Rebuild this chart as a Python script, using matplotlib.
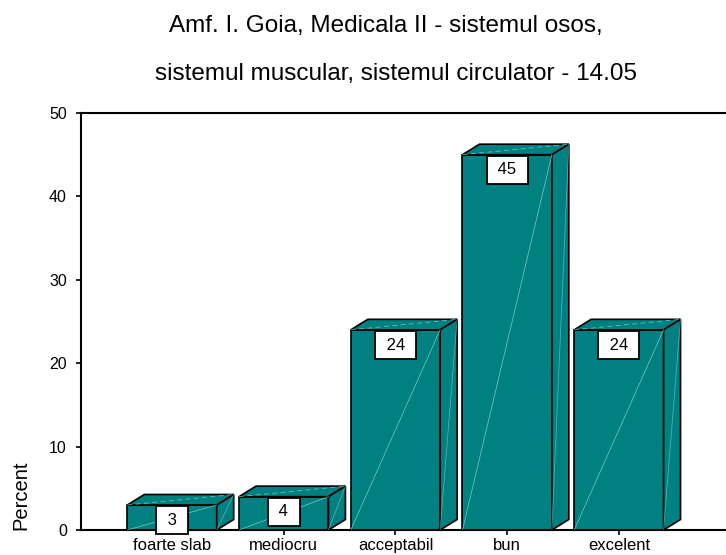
#!/usr/bin/env python3
"""SPSS-style 3D bar chart: exam results in percent."""

import matplotlib
matplotlib.use("Agg")
import matplotlib.pyplot as plt
from matplotlib.patches import Polygon

plt.rcParams['font.family'] = ['Liberation Sans', 'DejaVu Sans']

# data
categories = ['foarte slab', 'mediocru', 'acceptabil', 'bun', 'excelent']
percent = [3, 4, 24, 45, 24]
yticks = [0, 10, 20, 30, 40, 50]
title_1 = 'Amf. I. Goia, Medicala II - sistemul osos,'
title_2 = 'sistemul muscular, sistemul circulator - 14.05'

# style
face = '#008080'
light = '#7fd0d0'
bar_w = 0.8
dx, dy = 0.152, 1.26   # depth offset of the 3D look (data units)

fig = plt.figure(figsize=(7.26, 5.55), dpi=100)
ax = fig.add_axes([81 / 726, 25 / 555, 645 / 726, 417 / 555])

for i, v in enumerate(percent):
    xl, xr = i - bar_w / 2, i + bar_w / 2
    # front face
    ax.add_patch(Polygon([(xl, 0), (xr, 0), (xr, v), (xl, v)], closed=True,
                         fc=face, ec='black', lw=1.2, zorder=2, clip_on=False))
    # top face
    ax.add_patch(Polygon([(xl, v), (xl + dx, v + dy), (xr + dx, v + dy), (xr, v)],
                         closed=True, fc=face, ec='black', lw=1.2, zorder=2,
                         clip_on=False))
    # side face
    ax.add_patch(Polygon([(xr, 0), (xr + dx, dy), (xr + dx, v + dy), (xr, v)],
                         closed=True, fc=face, ec='black', lw=1.2, zorder=2,
                         clip_on=False))
    # faint highlight diagonals
    ax.plot([xl, xr], [0, v], color=light, lw=0.6, alpha=0.8, zorder=3)
    ax.plot([xr, xr + dx], [0, v + dy], color=light, lw=0.6, alpha=0.6, zorder=3)
    ax.plot([xl, xr + dx], [v, v + dy], color=light, lw=0.6, alpha=0.8,
            ls=(0, (6, 4)), zorder=3)
    # value label box
    ax.annotate(' %d ' % v, xy=(i, v), xytext=(0, -5.6), textcoords='offset points',
                ha='center', va='top', fontsize=12, zorder=4, annotation_clip=False,
                bbox=dict(boxstyle='square,pad=0.4', fc='white', ec='black', lw=1.3))

ax.set_xlim(-0.815, 4.959)
ax.set_ylim(0, 50)
ax.set_xticks(range(len(categories)))
ax.set_xticklabels(categories, fontsize=12)
ax.set_yticks(yticks)
ax.set_yticklabels([str(t) for t in yticks], fontsize=11.5)
ax.tick_params(axis='y', length=3.6, width=1.2, pad=6.5)
ax.tick_params(axis='x', length=3.6, width=1.2, pad=2.5)
ax.spines['right'].set_visible(False)
for s in ['left', 'top', 'bottom']:
    ax.spines[s].set_linewidth(1.5)

fig.text(21 / 726, 1 - 530 / 555, 'Percent', rotation=90, ha='center', va='bottom',
         fontsize=14.5)
fig.text(386 / 726, 1 - 32 / 555, title_1, ha='center', va='baseline', fontsize=17.5)
fig.text(396 / 726, 1 - 80 / 555, title_2, ha='center', va='baseline', fontsize=17.5)

fig.savefig('out.png', dpi=100)
